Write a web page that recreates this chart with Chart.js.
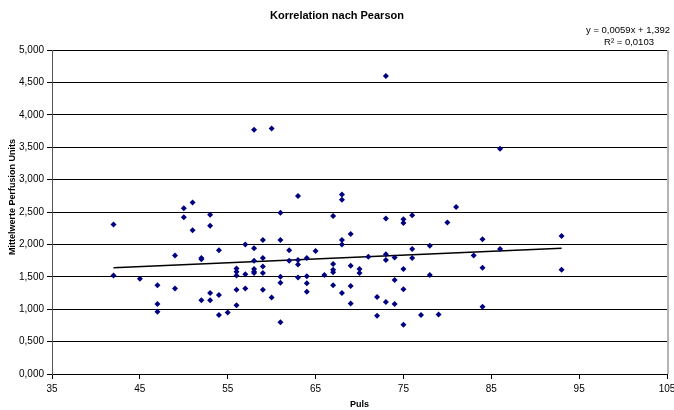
<!DOCTYPE html>
<html>
<head>
<meta charset="utf-8">
<script src="https://cdn.jsdelivr.net/npm/chart.js@4/dist/chart.umd.min.js"></script>
<style>
  html, body { margin: 0; padding: 0; background: #fff; }
</style>
</head>
<body>
<canvas id="myChart" width="674" height="410"></canvas>
<script>
// Puls (x) und Mittelwerte Perfusion Units (y)
const pulse = [
  42, 42, 45, 47, 47, 47, 49, 49, 50, 50, 51, 51, 52, 52, 52,
  53, 53, 53, 53, 54, 54, 54, 55, 56, 56, 56, 56, 56, 57, 57, 57,
  58, 58, 58, 58, 58, 58, 59, 59, 59, 59, 59, 60, 60,
  61, 61, 61, 61, 61, 62, 62, 63, 63, 63, 63, 64, 64, 64, 64,
  65, 66, 67, 67, 67, 67, 67, 68, 68, 68, 68, 68, 69, 69, 69, 69,
  70, 70, 71, 72, 72, 73, 73, 73, 73, 73, 74, 74, 74,
  75, 75, 75, 75, 75, 76, 76, 76, 77, 78, 78, 79, 80, 81, 83,
  84, 84, 84, 86, 86, 93, 93
];
const perfusion = [
  2.31, 1.52, 1.47, 1.37, 1.08, 0.96, 1.83, 1.32, 2.56, 2.42, 2.65, 2.22, 1.79, 1.77, 1.14,
  2.46, 2.29, 1.25, 1.14, 1.91, 1.22, 0.91, 0.95, 1.63, 1.58, 1.52, 1.30, 1.06, 2.00, 1.54, 1.32,
  3.77, 1.94, 1.75, 1.62, 1.58, 1.56, 2.07, 1.79, 1.66, 1.56, 1.30, 3.79, 1.18,
  2.49, 2.07, 1.50, 1.41, 0.80, 1.91, 1.75, 2.75, 1.76, 1.69, 1.49, 1.79, 1.51, 1.40, 1.27,
  1.90, 1.53, 2.44, 1.70, 1.61, 1.57, 1.37, 2.77, 2.69, 2.07, 2.00, 1.25, 2.16, 1.67, 1.36, 1.09,
  1.62, 1.56, 1.81, 1.19, 0.90, 4.60, 2.40, 1.85, 1.76, 1.11, 1.80, 1.45, 1.08,
  2.39, 2.33, 1.62, 1.31, 0.76, 2.45, 1.93, 1.79, 0.91, 1.98, 1.53, 0.92, 2.34, 2.58, 1.83,
  2.08, 1.64, 1.04, 3.48, 1.93, 2.13, 1.61
];

// lineare Trendlinie (Endpunkte)
const trendX = [42, 93];
const trendY = [1.640, 1.941];
const trendText = ['y = 0,0059x + 1,392', 'R\u00B2 = 0,0103'];
const yTitle = 'Mittelwerte Perfusion Units';

const font = '"Liberation Sans", Arial, sans-serif';

const extras = {
  id: 'extras',
  afterDraw(chart) {
    const { ctx, chartArea: a } = chart;
    ctx.save();
    // rechter Rand
    ctx.strokeStyle = '#b4b4b4';
    ctx.lineWidth = 2;
    ctx.beginPath();
    ctx.moveTo(a.right + 1, a.top);
    ctx.lineTo(a.right + 1, a.bottom);
    ctx.stroke();
    // Gleichung
    ctx.font = '9.5px ' + font;
    ctx.fillStyle = '#000';
    ctx.textAlign = 'center';
    ctx.textBaseline = 'middle';
    ctx.fillText(trendText[0], 628, 30);
    ctx.fillText(trendText[1], 629, 42);
    // y-Achsentitel
    ctx.font = 'bold 9px ' + font;
    ctx.translate(13, 197);
    ctx.rotate(-Math.PI / 2);
    ctx.fillText(yTitle, 0, 0);
    ctx.restore();
  }
};

const ctx = document.getElementById('myChart');
const myChart = new Chart(ctx, {
  type: 'scatter',
  data: {
    datasets: [{
      label: 'Perfusion',
      data: pulse.map((x, i) => ({ x: x, y: perfusion[i] })),
      backgroundColor: '#000080',
      borderColor: '#000080',
      pointStyle: 'rectRot',
      pointRadius: 3,
      borderWidth: 0
    }, {
      type: 'line',
      label: 'Trend',
      data: trendX.map((x, i) => ({ x: x, y: trendY[i] })),
      borderColor: '#000',
      borderWidth: 1.5,
      pointRadius: 0,
      fill: false
    }]
  },
  options: {
    responsive: false,
    animation: false,
    layout: { padding: 0 },
    plugins: {
      legend: { display: false },
      tooltip: { enabled: false },
      title: {
        display: true,
        text: 'Korrelation nach Pearson',
        color: '#000',
        font: { family: font, size: 11, weight: 'bold' },
        padding: { top: 9, bottom: 28 }
      }
    },
    scales: {
      x: {
        type: 'linear',
        min: 35,
        max: 105,
        ticks: { stepSize: 10, color: '#000', font: { family: font, size: 10 }, padding: 4 },
        grid: { drawOnChartArea: false, color: '#000', tickLength: 5 },
        border: { color: '#000', width: 1 },
        title: {
          display: true,
          text: 'Puls',
          color: '#000',
          font: { family: font, size: 9, weight: 'bold' },
          padding: { top: 0, bottom: 0 }
        },
        afterFit(scale) { scale.height = 36; scale.paddingRight = 7; }
      },
      y: {
        min: 0,
        max: 5,
        ticks: {
          stepSize: 0.5,
          color: '#000',
          font: { family: font, size: 10 },
          padding: 3,
          callback: v => v.toFixed(3).replace('.', ',')
        },
        grid: { color: '#000', tickLength: 5 },
        border: { color: '#555', width: 1 },
        afterFit(scale) { scale.width = 52; }
      }
    }
  },
  plugins: [extras]
});
</script>
</body>
</html>
